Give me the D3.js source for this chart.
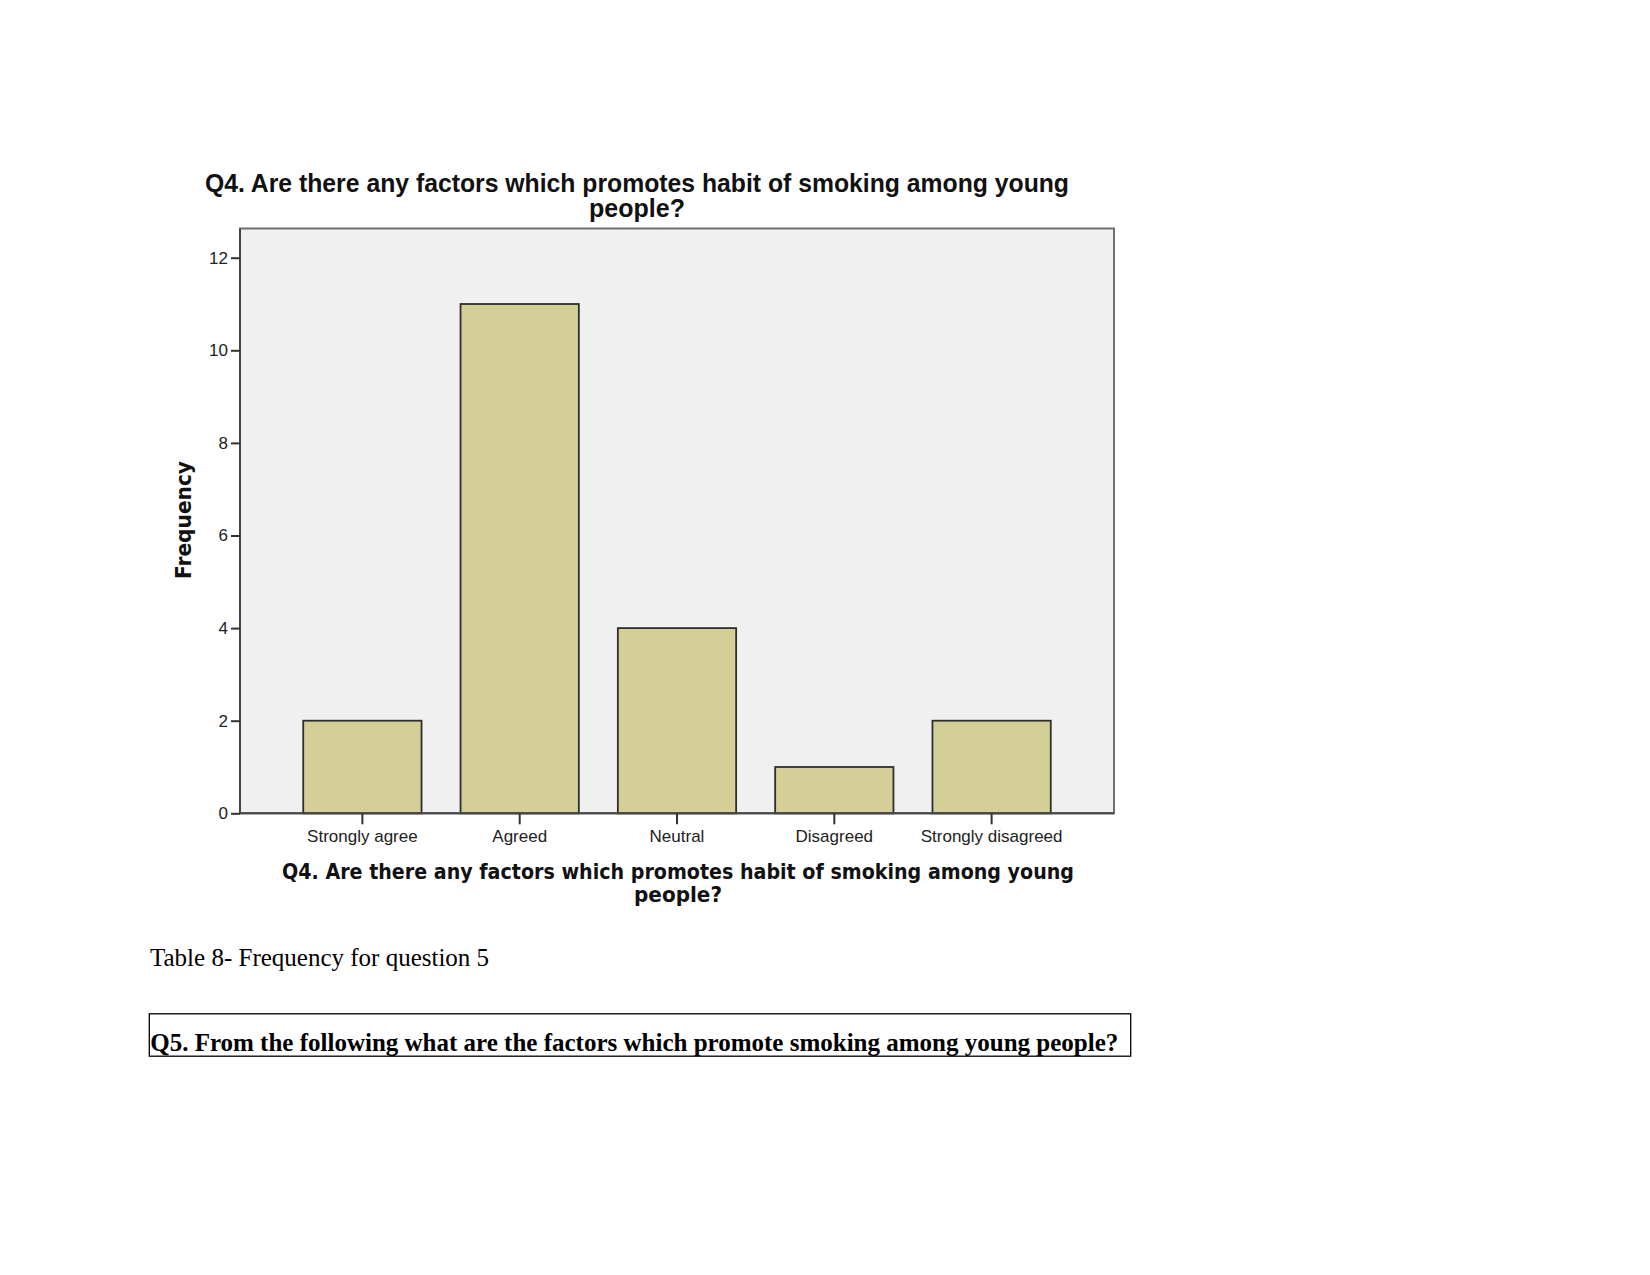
<!DOCTYPE html>
<html>
<head>
<meta charset="utf-8">
<script src="https://cdn.jsdelivr.net/npm/d3@7"></script>
<style>
  html, body { margin: 0; padding: 0; background: #ffffff; }
  svg { display: block; }
</style>
</head>
<body>
<svg id="chart" width="1650" height="1275"></svg>
<script>
// ---- Data ----
const categories = ["Strongly agree", "Agreed", "Neutral", "Disagreed", "Strongly disagreed"];
const frequencies = [2, 11, 4, 1, 2];
const yTicks = [0, 2, 4, 6, 8, 10, 12];
const titleLines = ["Q4. Are there any factors which promotes habit of smoking among young", "people?"];
const xTitleLines = ["Q4. Are there any factors which promotes habit of smoking among young", "people?"];
const yTitle = "Frequency";
const captionText = "Table 8- Frequency for question 5";
const boxText = "Q5. From the following what are the factors which promote smoking among young people?";

// ---- Layout ----
const svg = d3.select("#chart");
const plot = { left: 240, right: 1114, top: 228.5, bottom: 813.3 };

const x = d3.scaleBand()
  .domain(categories)
  .range([plot.left, plot.right])
  .paddingInner(0.248)
  .paddingOuter(0.402);

const y = d3.scaleLinear()
  .domain([0, 12])
  .range([plot.bottom, 257.7]);

// plot background + frame
svg.append("rect")
  .attr("x", plot.left).attr("y", plot.top)
  .attr("width", plot.right - plot.left).attr("height", plot.bottom - plot.top)
  .attr("fill", "#f0f0f0")
  .attr("stroke", "#707070")
  .attr("stroke-width", 2);

// bars
svg.append("g").selectAll("rect")
  .data(categories.map((c, i) => ({ c, v: frequencies[i] })))
  .join("rect")
  .attr("x", d => x(d.c))
  .attr("y", d => y(d.v))
  .attr("width", x.bandwidth())
  .attr("height", d => y(0) - y(d.v))
  .attr("fill", "#d3cf97")
  .attr("stroke", "#2e2e2e")
  .attr("stroke-width", 1.8);

// y axis
const yAxis = svg.append("g")
  .attr("transform", `translate(${plot.left},0)`)
  .call(d3.axisLeft(y).tickValues(yTicks).tickSize(9).tickPadding(3).tickFormat(d3.format("d")));
yAxis.select(".domain").attr("stroke", "#444").attr("stroke-width", 2)
  .attr("d", `M0,${plot.top}V${plot.bottom}`);
yAxis.selectAll(".tick line").attr("stroke", "#333").attr("stroke-width", 2);
yAxis.selectAll(".tick text")
  .attr("font-family", "'Liberation Sans', Arial, sans-serif")
  .attr("font-size", 17)
  .attr("fill", "#222");

// x axis
const xAxis = svg.append("g")
  .attr("transform", `translate(0,${plot.bottom})`)
  .call(d3.axisBottom(x).tickSize(11).tickPadding(6));
xAxis.select(".domain").attr("stroke", "#444").attr("stroke-width", 2)
  .attr("d", `M${plot.left},0H${plot.right}`);
xAxis.selectAll(".tick line").attr("stroke", "#333").attr("stroke-width", 2);
xAxis.selectAll(".tick text")
  .attr("font-family", "'Liberation Sans', Arial, sans-serif")
  .attr("font-size", 17)
  .attr("fill", "#222");

// chart title (top)
const tTitle = svg.append("text")
  .attr("font-family", "'Liberation Sans', Arial, sans-serif")
  .attr("font-weight", "bold")
  .attr("font-size", 25)
  .attr("fill", "#111")
  .attr("text-anchor", "middle");
tTitle.append("tspan").attr("x", 637).attr("y", 192).text(titleLines[0])
  .attr("textLength", 864).attr("lengthAdjust", "spacingAndGlyphs");
tTitle.append("tspan").attr("x", 637).attr("y", 217).text(titleLines[1]);

// x-axis title
const tx = svg.append("text")
  .attr("font-family", "'DejaVu Sans', Verdana, sans-serif")
  .attr("font-weight", "bold")
  .attr("font-size", 21.5)
  .attr("fill", "#111")
  .attr("text-anchor", "middle");
tx.append("tspan").attr("x", 678).attr("y", 879.3).text(xTitleLines[0])
  .attr("textLength", 792).attr("lengthAdjust", "spacingAndGlyphs");
tx.append("tspan").attr("x", 678).attr("y", 901.7).text(xTitleLines[1])
  .attr("textLength", 88).attr("lengthAdjust", "spacingAndGlyphs");

// y-axis title
svg.append("text")
  .attr("transform", `translate(191,520) rotate(-90)`)
  .attr("font-family", "'DejaVu Sans', Verdana, sans-serif")
  .attr("font-weight", "bold")
  .attr("font-size", 21.5)
  .attr("fill", "#111")
  .attr("text-anchor", "middle")
  .attr("textLength", 118).attr("lengthAdjust", "spacingAndGlyphs")
  .text(yTitle);

// document text below chart
svg.append("text")
  .attr("x", 150).attr("y", 965.7)
  .attr("font-family", "'Liberation Serif', 'Times New Roman', serif")
  .attr("font-size", 25)
  .attr("fill", "#000")
  .text(captionText);

svg.append("rect")
  .attr("x", 149.3).attr("y", 1013.8)
  .attr("width", 1130.7 - 149.3).attr("height", 1056.2 - 1013.8)
  .attr("fill", "none")
  .attr("stroke", "#000")
  .attr("stroke-width", 1.3);

svg.append("text")
  .attr("x", 150.2).attr("y", 1050.5)
  .attr("font-family", "'Liberation Serif', 'Times New Roman', serif")
  .attr("font-weight", "bold")
  .attr("font-size", 25)
  .attr("fill", "#000")
  .text(boxText);
</script>
</body>
</html>
